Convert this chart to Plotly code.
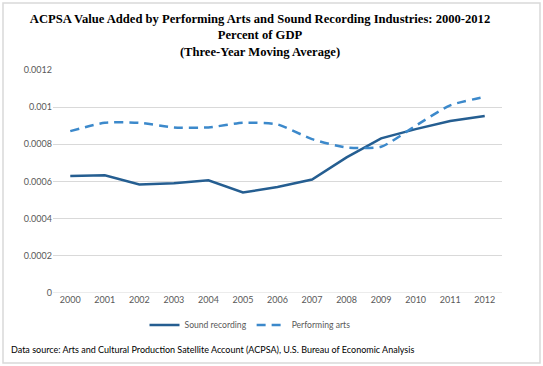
import plotly.graph_objects as go

years = ["2000", "2001", "2002", "2003", "2004", "2005", "2006",
         "2007", "2008", "2009", "2010", "2011", "2012"]
sound_recording = [0.000629, 0.000634, 0.000584, 0.000590, 0.000607, 0.000541,
                   0.000570, 0.000611, 0.000730, 0.000832, 0.000882, 0.000925, 0.000952]
performing_arts = [0.000871, 0.000916, 0.000916, 0.000891, 0.000891, 0.000916,
                   0.000907, 0.000828, 0.000783, 0.000787, 0.000900, 0.001010, 0.001055]
y_ticks = [0, 0.0002, 0.0004, 0.0006, 0.0008, 0.001, 0.0012]
y_tick_labels = ["0", "0.0002", "0.0004", "0.0006", "0.0008", "0.001", "0.0012"]

W, H = 543, 366
L, R, T, B = 53, 41, 70, 73
pw, ph = W - L - R, H - T - B

def px(x):
    return (x - L) / pw

def py(y):
    return (H - B - y) / ph

fig = go.Figure()
fig.add_trace(go.Scatter(x=years, y=sound_recording, name="Sound recording",
                         mode="lines", line=dict(color="#255E91", width=2.5)))
fig.add_trace(go.Scatter(x=years, y=performing_arts, name="Performing arts",
                         mode="lines", line=dict(color="#3C89CB", width=2.5, dash="9px,6px",
                                                 shape="spline", smoothing=0.6)))

fig.update_layout(
    width=W, height=H,
    margin=dict(l=L, r=R, t=T, b=B, autoexpand=False),
    paper_bgcolor="white", plot_bgcolor="white",
    font=dict(family="Lato, Open Sans, sans-serif", size=9, color="#595959"),
    title=dict(text="ACPSA Value Added by Performing Arts and Sound Recording Industries: 2000-2012<br>Percent of GDP<br>(Three-Year Moving Average)",
               x=px(260), xref="paper", xanchor="center", y=1 - 23 / H, yanchor="top",
               font=dict(family="Liberation Serif, serif", size=12.6, color="#000000", weight="bold")),
    xaxis=dict(type="category", range=[-0.5, 12.5], showgrid=False, showline=False,
               ticks="", automargin=False, tickfont=dict(size=9, color="#595959")),
    yaxis=dict(range=[0, 0.0012], tickvals=y_ticks, ticktext=y_tick_labels,
               showgrid=True, gridcolor="#D9D9D9", gridwidth=1, zeroline=False,
               showline=False, ticks="", ticklen=0, automargin=False,
               tickfont=dict(size=9, color="#595959")),
    legend=dict(orientation="h", x=px(250), xanchor="center", y=py(325), yanchor="middle",
                font=dict(size=8.6, color="#595959"), itemwidth=30, bgcolor="rgba(0,0,0,0)"),
    showlegend=True,
)
fig.update_yaxes(ticksuffix="  ")
fig.add_shape(type="line", xref="paper", yref="y", x0=0, x1=1, y0=0, y1=0,
              line=dict(color="#D9D9D9", width=1))
fig.add_annotation(text="Data source: Arts and Cultural Production Satellite Account (ACPSA), U.S. Bureau of Economic Analysis",
                   xref="paper", yref="paper", x=px(9), y=py(349), xanchor="left", yanchor="middle",
                   showarrow=False, font=dict(family="Lato, Open Sans, sans-serif", size=9, color="#000000"))
fig.add_shape(type="rect", xref="paper", yref="paper", x0=px(3), x1=px(540), y0=py(3), y1=py(363),
              line=dict(color="#D9D9D9", width=1.5), fillcolor="rgba(0,0,0,0)", layer="above")

fig.write_html("out.html", config={"displayModeBar": False},
               post_script="document.body.style.margin='0';document.body.style.overflow='hidden';")
